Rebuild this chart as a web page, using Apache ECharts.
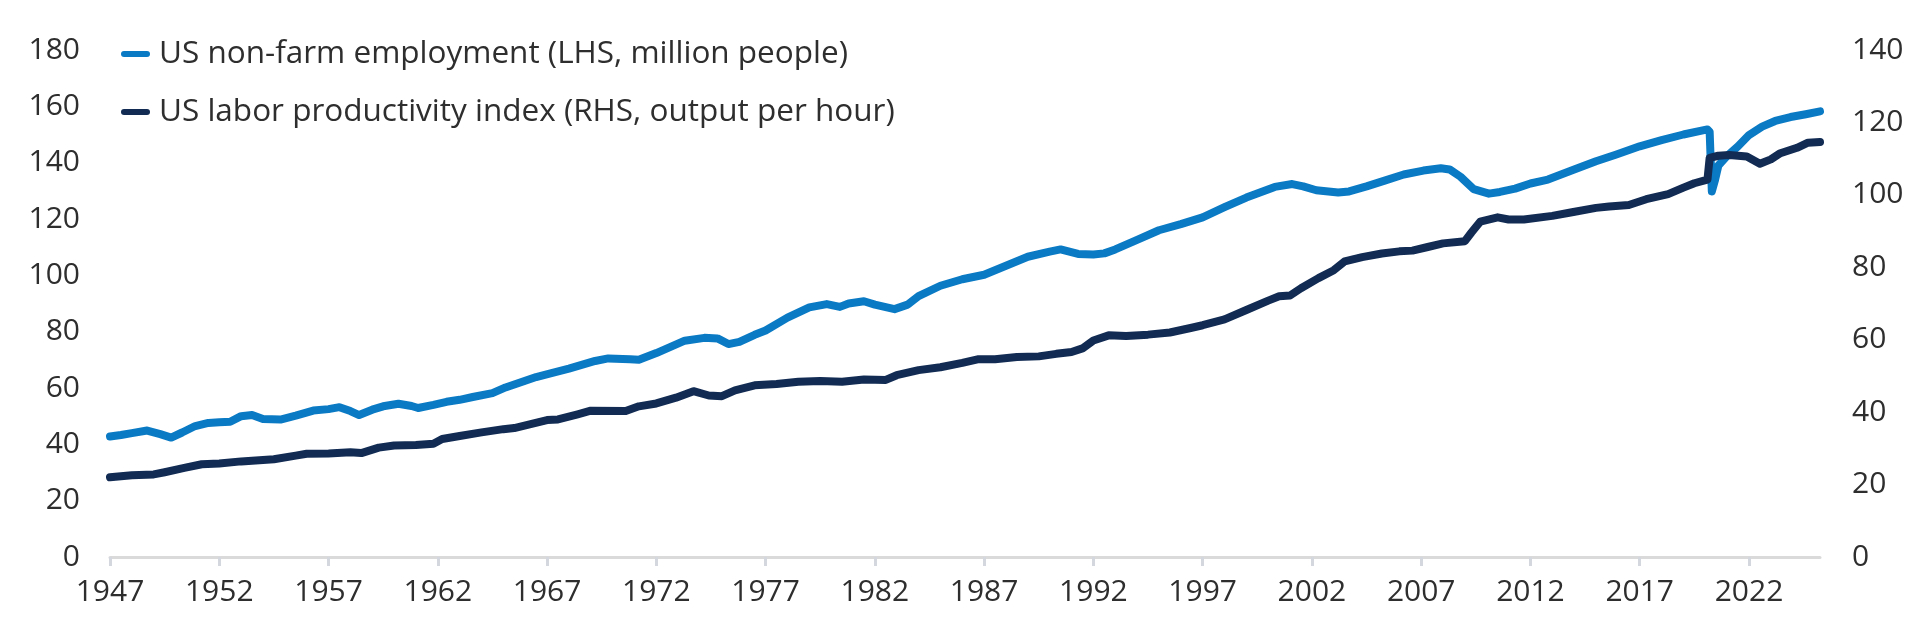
<!DOCTYPE html>
<html>
<head>
<meta charset="utf-8">
<script src="https://cdn.jsdelivr.net/npm/echarts@6/dist/echarts.min.js"></script>
<style>
html,body{margin:0;padding:0;background:#fff;}
#chart{width:1931px;height:619px;}
</style>
</head>
<body>
<div id="chart"></div>
<script>
var baseYear = 1947;
var xTickYears = [1947,1952,1957,1962,1967,1972,1977,1982,1987,1992,1997,2002,2007,2012,2017,2022];
var seriesNames = ['US non-farm employment (LHS, million people)', 'US labor productivity index (RHS, output per hour)'];

var empYears = [1947.0,1947.5,1948.0,1948.7,1949.3,1949.8,1950.3,1950.9,1951.5,1952.0,1952.5,1953.0,1953.5,1954.0,1954.8,1955.5,1956.3,1957.0,1957.5,1958.0,1958.4,1959.0,1959.5,1960.2,1960.8,1961.1,1961.8,1962.4,1963.0,1963.6,1964.5,1965.1,1966.0,1966.5,1967.2,1968.0,1969.2,1969.8,1970.8,1971.2,1972.0,1973.3,1974.2,1974.8,1975.3,1975.8,1976.5,1977.0,1978.0,1979.0,1979.8,1980.4,1980.8,1981.5,1982.0,1982.9,1983.5,1984.0,1985.0,1986.0,1987.0,1988.0,1989.0,1990.0,1990.5,1991.3,1992.0,1992.5,1993.0,1994.0,1995.0,1996.0,1997.0,1998.0,1999.0,2000.3,2001.1,2001.6,2002.2,2003.2,2003.7,2004.5,2005.4,2006.2,2007.1,2007.9,2008.3,2008.8,2009.4,2010.1,2010.6,2011.3,2012.0,2012.8,2014.0,2015.0,2015.9,2017.0,2018.0,2019.0,2020.1,2020.2,2020.3,2020.45,2020.6,2021.0,2021.5,2022.0,2022.6,2023.2,2023.9,2024.6,2025.25];
var empValues = [42.8,43.3,44.0,44.9,43.6,42.4,44.2,46.5,47.6,47.8,48.0,50.0,50.4,49.0,48.8,50.2,52.0,52.5,53.2,51.8,50.4,52.3,53.5,54.4,53.6,52.9,54.0,55.1,55.8,56.8,58.2,60.2,62.6,63.9,65.3,66.9,69.6,70.5,70.2,70.0,72.4,76.8,77.8,77.6,75.6,76.4,78.9,80.4,85.0,88.6,89.8,88.8,90.0,90.8,89.6,88.0,89.6,92.6,96.3,98.6,100.2,103.4,106.6,108.4,109.2,107.6,107.4,107.8,109.2,112.6,116.0,118.2,120.6,124.2,127.6,131.4,132.4,131.6,130.2,129.4,129.8,131.6,133.8,135.8,137.2,138.0,137.6,135.0,130.6,129.0,129.6,130.8,132.6,134.0,137.6,140.5,142.8,145.8,148.0,150.0,151.8,151.0,129.8,134.0,139.0,142.4,145.8,149.8,152.8,154.8,156.2,157.2,158.2];

var prodYears = [1947.0,1947.5,1948.0,1949.0,1949.5,1950.4,1951.2,1952.0,1953.0,1954.5,1955.5,1956.0,1957.0,1958.0,1958.5,1959.3,1960.0,1961.0,1961.8,1962.2,1963.0,1964.0,1965.0,1965.5,1966.2,1967.0,1967.5,1968.4,1969.0,1970.6,1971.2,1972.0,1972.9,1973.7,1974.4,1975.0,1975.6,1976.5,1977.5,1978.5,1979.5,1980.5,1981.5,1982.5,1983.0,1984.0,1985.0,1986.0,1986.7,1987.5,1988.5,1989.5,1990.3,1991.0,1991.5,1992.0,1992.7,1993.5,1994.5,1995.5,1996.5,1997.0,1998.0,1999.0,2000.0,2000.5,2001.0,2001.5,2002.3,2003.0,2003.5,2004.3,2005.2,2006.0,2006.6,2007.3,2008.0,2009.0,2009.3,2009.7,2010.5,2011.0,2011.7,2013.0,2013.9,2015.0,2015.6,2016.5,2017.3,2018.3,2019.0,2019.5,2020.1,2020.2,2020.6,2021.1,2021.9,2022.5,2023.0,2023.4,2024.2,2024.7,2025.25];
var prodValues = [22.0,22.3,22.6,22.8,23.4,24.6,25.6,25.8,26.4,27.0,28.0,28.5,28.6,28.9,28.7,30.2,30.8,30.9,31.3,32.6,33.4,34.4,35.3,35.6,36.6,37.8,38.0,39.4,40.4,40.3,41.6,42.4,44.0,45.8,44.6,44.4,46.0,47.4,47.8,48.4,48.6,48.4,49.0,48.9,50.2,51.6,52.4,53.6,54.6,54.6,55.2,55.4,56.1,56.6,57.6,59.8,61.2,61.0,61.4,62.0,63.3,64.0,65.6,68.2,70.8,72.0,72.2,74.2,77.0,79.2,81.6,82.8,83.8,84.4,84.6,85.6,86.6,87.2,89.6,92.6,93.8,93.2,93.2,94.2,95.2,96.4,96.8,97.2,98.8,100.2,102.0,103.2,104.2,110.2,110.8,111.0,110.6,108.6,109.8,111.4,113.0,114.4,114.6];

function pairs(xs, ys) {
  return xs.map(function (x, i) { return [x - baseYear, ys[i]]; });
}
var tickOffsets = xTickYears.map(function (y) { return y - baseYear; });

var FONT = '"Open Sans", "Noto Sans", sans-serif';
var TXT = '#2e2e2e';
var chart = echarts.init(document.getElementById('chart'), null, {renderer: 'canvas'});
chart.setOption({
  animation: false,
  backgroundColor: '#ffffff',
  grid: {left: 110, right: 111, top: 50, bottom: 62},
  legend: {
    orient: 'vertical',
    left: 116,
    top: 33,
    itemWidth: 29,
    itemHeight: 6,
    itemGap: 26,
    icon: 'path://M3,0 H26 A3,3 0 0 1 26,6 H3 A3,3 0 0 1 3,0 Z',
    textStyle: {fontFamily: FONT, fontSize: 31.5, color: TXT, lineHeight: 31, padding: [0, 0, 0, 4]},
    data: seriesNames
  },
  xAxis: {
    type: 'value',
    min: 0,
    max: 2025.25 - baseYear,
    interval: 5,
    splitLine: {show: false},
    axisLine: {show: true, lineStyle: {color: '#dadada', width: 3}},
    axisTick: {show: true, customValues: tickOffsets, length: 9, lineStyle: {color: '#d4d7dd', width: 3}},
    axisLabel: {
      customValues: tickOffsets,
      margin: 20,
      fontFamily: FONT, fontSize: 30, color: TXT,
      formatter: function (v) { return String(Math.round(v + baseYear)); }
    }
  },
  yAxis: [{
    type: 'value', min: 0, max: 180, interval: 20,
    splitLine: {show: false}, axisLine: {show: false}, axisTick: {show: false},
    axisLabel: {margin: 30, fontFamily: FONT, fontSize: 30, color: TXT}
  }, {
    type: 'value', min: 0, max: 140, interval: 20, position: 'right',
    splitLine: {show: false}, axisLine: {show: false}, axisTick: {show: false},
    axisLabel: {margin: 32, fontFamily: FONT, fontSize: 30, color: TXT}
  }],
  series: [{
    name: seriesNames[0],
    type: 'line',
    yAxisIndex: 0,
    data: pairs(empYears, empValues),
    showSymbol: false,
    symbol: 'none',
    color: '#0a7ac4',
    lineStyle: {width: 8, color: '#0a7ac4', cap: 'round', join: 'round'}
  }, {
    name: seriesNames[1],
    type: 'line',
    yAxisIndex: 1,
    data: pairs(prodYears, prodValues),
    showSymbol: false,
    symbol: 'none',
    color: '#112b53',
    lineStyle: {width: 8, color: '#112b53', cap: 'round', join: 'round'}
  }]
});
</script>
</body>
</html>
